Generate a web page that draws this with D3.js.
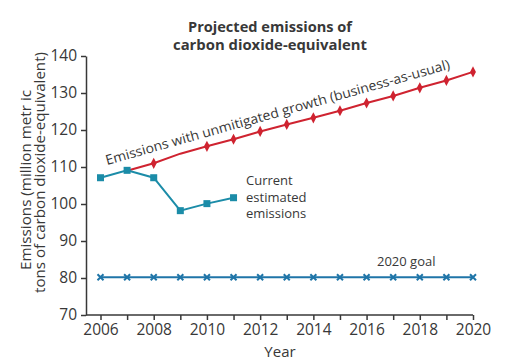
<!DOCTYPE html>
<html><head><meta charset="utf-8">
<script src="https://cdn.jsdelivr.net/npm/d3@7"></script>
<style>
body{margin:0;background:#fff;}
svg{display:block;font-family:"Open Sans",sans-serif;}
</style></head>
<body><svg id="c" width="506" height="363"></svg>
<script>
const years = d3.range(2006, 2021);
const xTickLabels = [2006, 2008, 2010, 2012, 2014, 2016, 2018, 2020];
const yTicks = [70, 80, 90, 100, 110, 120, 130, 140];

const bauYears  = [2007, 2008, 2009, 2010, 2011, 2012, 2013, 2014, 2015, 2016, 2017, 2018, 2019, 2020];
const bauValues = [109, 111, 113.6, 115.6, 117.5, 119.6, 121.5, 123.3, 125.2, 127.3, 129.2, 131.4, 133.4, 135.7];
const bauNoMarker = [2007, 2009];

const curYears  = [2006, 2007, 2008, 2009, 2010, 2011];
const curValues = [107.1, 109.1, 107.1, 98.2, 100.1, 101.7];

const goalYears  = years;
const goalValues = years.map(() => 80.2);

const title = ["Projected emissions of", "carbon dioxide-equivalent"];
const yLabel = ["Emissions (million metr ic", "tons of  carbon dioxide-equivalent)"];
const curLabel = ["Current", "estimated", "emissions"];

const RED = "#cf2330", TEAL = "#1b8ca8", BLUE = "#1f75a8", TXT = "#383838";

const svg = d3.select("#c");
const x = d3.scaleLinear().domain([2006, 2020]).range([100.5, 473]);
const y = d3.scaleLinear().domain([70, 140]).range([315, 56]);
const axisX0 = 86;

// Y axis
const gy = svg.append("g").attr("transform", `translate(${axisX0},0)`)
  .call(d3.axisLeft(y).tickValues(yTicks).tickSize(5).tickSizeOuter(0).tickPadding(4));
gy.select(".domain").attr("stroke", TXT).attr("stroke-width", 1.5);
gy.selectAll(".tick line").attr("stroke", TXT).attr("stroke-width", 1.5);
gy.selectAll(".tick text").attr("fill", TXT).style("font-size", "15.5px").style("font-family", "Open Sans");

// X axis
const gx = svg.append("g").attr("transform", `translate(0,${y(70)})`)
  .call(d3.axisBottom(x).tickValues(years).tickSize(5).tickSizeOuter(0).tickPadding(4)
    .tickFormat(d => xTickLabels.includes(d) ? d : ""));
gx.select(".domain").remove();
gx.append("line").attr("x1", axisX0).attr("x2", x(2020)).attr("stroke", TXT).attr("stroke-width", 1.5);
gx.selectAll(".tick line").attr("stroke", TXT).attr("stroke-width", 1.5);
gx.selectAll(".tick text").attr("fill", TXT).style("font-size", "15.5px").style("font-family", "Open Sans");

// Titles
const tLens = [164, 194];
svg.selectAll(".ttl").data(title).join("text").attr("class", "ttl")
  .attr("x", 270).attr("y", (d, i) => 32 + i * 17.5).attr("text-anchor", "middle").attr("fill", TXT)
  .style("font-weight", "bold").style("font-size", "14px")
  .attr("textLength", (d, i) => tLens[i]).attr("lengthAdjust", "spacingAndGlyphs")
  .text(d => d);

svg.append("text").attr("x", 280).attr("y", 357).attr("text-anchor", "middle").attr("fill", TXT)
  .style("font-size", "15px").text("Year");

const yLens = [180, 241];
svg.selectAll(".ylab").data(yLabel).join("text").attr("class", "ylab")
  .attr("text-anchor", "middle").attr("fill", TXT).style("font-size", "15px")
  .attr("textLength", (d, i) => yLens[i]).attr("lengthAdjust", "spacingAndGlyphs")
  .attr("transform", (d, i) => `translate(${31 + i * 14},${[180, 172.5][i]}) rotate(-90)`)
  .text(d => d);

// Lines
const line = d3.line().x(d => x(d[0])).y(d => y(d[1]));
const bau = bauYears.map((d, i) => [d, bauValues[i]]);
const cur = curYears.map((d, i) => [d, curValues[i]]);
const goal = goalYears.map((d, i) => [d, goalValues[i]]);

svg.append("path").datum(bau).attr("d", line).attr("fill", "none").attr("stroke", RED).attr("stroke-width", 2);
svg.selectAll(".dm").data(bau.filter(d => !bauNoMarker.includes(d[0]))).join("path").attr("class", "dm")
  .attr("d", d3.symbol(d3.symbolDiamond, 30)()).attr("fill", RED)
  .attr("transform", d => `translate(${x(d[0])},${y(d[1])}) scale(1,1.1)`);

svg.append("path").datum(cur).attr("d", line).attr("fill", "none").attr("stroke", TEAL).attr("stroke-width", 2);
svg.selectAll(".sq").data(cur).join("rect").attr("class", "sq")
  .attr("x", d => x(d[0]) - 3.5).attr("y", d => y(d[1]) - 3.5).attr("width", 7).attr("height", 7).attr("fill", TEAL);

svg.append("path").datum(goal).attr("d", line).attr("fill", "none").attr("stroke", BLUE).attr("stroke-width", 1.8);
svg.selectAll(".xm").data(goal).join("path").attr("class", "xm")
  .attr("d", "M-3,-3L3,3M-3,3L3,-3").attr("stroke", BLUE).attr("stroke-width", 2)
  .attr("transform", d => `translate(${x(d[0])},${y(d[1])})`);

// Annotations
const ang = Math.atan2(97, 346) * 180 / Math.PI;
svg.append("text").attr("fill", TXT).style("font-size", "13.5px")
  .attr("transform", `translate(107,165) rotate(${-ang})`)
  .attr("textLength", 357).attr("lengthAdjust", "spacingAndGlyphs")
  .text("Emissions with unmitigated growth (business-as-usual)");

svg.append("text").attr("fill", TXT).style("font-size", "13px")
  .selectAll("tspan").data(curLabel).join("tspan")
  .attr("x", 246).attr("y", (d, i) => 185 + i * 16.5).text(d => d);

svg.append("text").attr("x", 377).attr("y", 266).attr("fill", TXT).style("font-size", "13px").text("2020 goal");
</script>
</body></html>
